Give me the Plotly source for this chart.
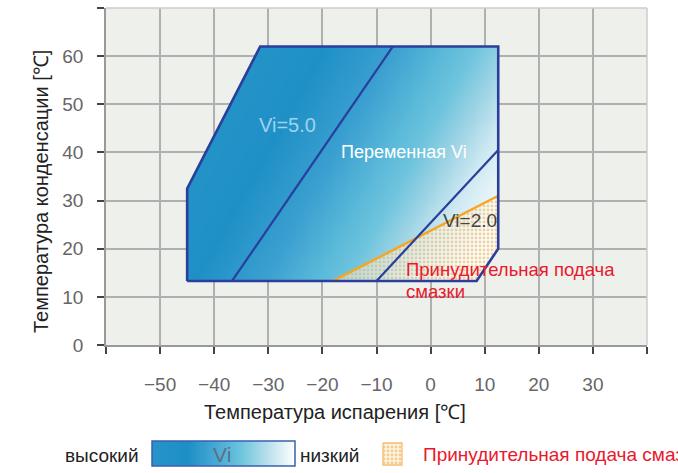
import numpy as np
import plotly.graph_objects as go

# ---------------- data ----------------
x_ticks = [-60, -50, -40, -30, -20, -10, 0, 10, 20, 30, 40]
x_ticktext = ["", "−50", "−40", "−30", "−20", "−10", "0", "10", "20", "30", ""]
y_ticks = [0, 10, 20, 30, 40, 50, 60, 70]
y_ticktext = ["0", "10", "20", "30", "40", "50", "60", ""]

envelope_x = [-45, -45, -31.5, 12.5, 12.5, 8.5, -45]
envelope_y = [13.3, 32.5, 62, 62, 20, 13.3, 13.3]

vi5_x = [-36.7, -7.0]
vi5_y = [13.3, 62.0]

vi2_x = [-10.0, 12.5]
vi2_y = [13.3, 40.5]

oil_x = [-18.0, 12.5]
oil_y = [13.3, 31.0]

oil_zone_x = [-18.0, 12.5, 12.5, 8.5, -18.0]
oil_zone_y = [13.3, 31.0, 20.0, 13.3, 13.3]

# ---------------- geometry helpers ----------------
W, H = 678, 473
ML, MR, MT, MB = 106, 31, 8, 0
PW = W - ML - MR          # 541
PH = H - MT - MB          # 465
PLOT_BOTTOM_PX = 345
Y_DOMAIN = [(H - PLOT_BOTTOM_PX) / PH, 1.0]
XR = [-60, 40]
YR = [0, 70]
sx = PW / (XR[1] - XR[0])
sy = (PLOT_BOTTOM_PX - MT) / (YR[1] - YR[0])


def px_paper_x(px):
    return (px - ML) / PW


def px_paper_y(py):
    return (H - MB - py) / PH


def inside(px, py, vx, vy):
    vx = np.asarray(vx, float)
    vy = np.asarray(vy, float)
    res = np.zeros(px.shape, bool)
    n = len(vx)
    j = n - 1
    for i in range(n):
        xi, yi, xj, yj = vx[i], vy[i], vx[j], vy[j]
        cond = ((yi > py) != (yj > py)) & (
            px < (xj - xi) * (py - yi) / (yj - yi + 1e-12) + xi)
        res ^= cond
        j = i
    return res


# ---------------- gradient fill of envelope ----------------
gx = np.arange(-45.0, 12.6, 0.2)
gy = np.arange(13.3, 62.1, 0.2)
GX, GY = np.meshgrid(gx, gy)
SX = ML + (GX - XR[0]) * sx
SY = PLOT_BOTTOM_PX - GY * sy
T = 0.874 * (SX - 232) + 0.487 * (SY - 280)
mask = inside(GX, GY, envelope_x, envelope_y)
Z = np.where(mask, T, np.nan)

tmin, tmax = -110, 200
stops = [(-110, "#2593c8"), (-30, "#1f90c6"), (27, "#3a9fd0"), (70, "#58b7d8"),
         (100, "#6ec4dd"), (130, "#9fd4e5"), (160, "#cfe9f2"), (200, "#f4fafc")]
cscale = [[(t - tmin) / (tmax - tmin), c] for t, c in stops]

fig = go.Figure()
fig.add_trace(go.Heatmap(x=gx, y=gy, z=Z, colorscale=cscale, zmin=tmin, zmax=tmax,
                         showscale=False, hoverinfo="skip", zsmooth=False))

# oil (forced lubrication) dotted zone
fig.add_trace(go.Scatter(x=oil_zone_x, y=oil_zone_y, mode="lines", fill="toself",
                         line=dict(width=0, color="rgba(0,0,0,0)"),
                         fillcolor="rgba(255,255,255,0.35)",
                         fillpattern=dict(shape=".", fgcolor="#F0A535",
                                          bgcolor="rgba(255,255,255,0.45)",
                                          size=4, solidity=0.4),
                         hoverinfo="skip", showlegend=False))

# lines
fig.add_trace(go.Scatter(x=oil_x, y=oil_y, mode="lines",
                         line=dict(color="#F5A623", width=2.5),
                         hoverinfo="skip", showlegend=False))
fig.add_trace(go.Scatter(x=vi5_x, y=vi5_y, mode="lines",
                         line=dict(color="#2a3f9d", width=2.2),
                         hoverinfo="skip", showlegend=False))
fig.add_trace(go.Scatter(x=vi2_x, y=vi2_y, mode="lines",
                         line=dict(color="#2a3f9d", width=2.2),
                         hoverinfo="skip", showlegend=False))
fig.add_trace(go.Scatter(x=envelope_x, y=envelope_y, mode="lines",
                         line=dict(color="#2a3f9d", width=2.6),
                         hoverinfo="skip", showlegend=False))

# ---------------- legend row (pixel axes) ----------------
leg_grad_x = np.linspace(152, 295, 144)
f = (leg_grad_x - 152) / 143
leg_z = [list(f[:-1] + 0.5 / 143)]
leg_scale = [[0, "#2893c8"], [0.25, "#1d8fc6"], [0.45, "#48a9d4"], [0.62, "#6cc4dc"],
             [0.8, "#b5deeb"], [1.0, "#ffffff"]]
fig.add_trace(go.Heatmap(x=leg_grad_x, y=[441, 466], z=leg_z, colorscale=leg_scale,
                         zmin=0, zmax=1, showscale=False, hoverinfo="skip",
                         xaxis="x2", yaxis="y2"))
fig.add_trace(go.Scatter(x=[383, 402, 402, 383, 383], y=[443, 443, 465, 465, 443],
                         mode="lines", fill="toself", xaxis="x2", yaxis="y2",
                         line=dict(color="#F4BE78", width=1.3),
                         fillcolor="rgba(255,255,255,0)",
                         fillpattern=dict(shape=".", fgcolor="#F0A535",
                                          bgcolor="#FDF3E4", size=4, solidity=0.4),
                         hoverinfo="skip", showlegend=False))

FONT = "Liberation Sans, Arial, sans-serif"

shapes = [
    # plot background only for the main chart
    dict(type="rect", xref="paper", yref="paper", x0=0, x1=1, y0=Y_DOMAIN[0], y1=1,
         fillcolor="#EEF0EC", line=dict(width=0), layer="below"),
    dict(type="rect", xref="x2", yref="y2", x0=152, x1=295, y0=441, y1=466,
         line=dict(color="#3a5fb0", width=1.5)),
    dict(type="line", xref="paper", yref="paper", x0=0, x1=1, y0=1, y1=1,
         line=dict(color="#cccccc", width=1.5)),
    dict(type="line", xref="paper", yref="paper", x0=1, x1=1, y0=Y_DOMAIN[0], y1=1,
         line=dict(color="#cccccc", width=1.5)),
]


def pann(px, py, text, size, color, xanchor="center", angle=0):
    return dict(x=px_paper_x(px), y=px_paper_y(py), xref="paper", yref="paper",
                text=text, showarrow=False, xanchor=xanchor, yanchor="middle",
                textangle=angle, font=dict(family=FONT, size=size, color=color))


annotations = [
    dict(x=-26.4, y=45.7, xref="x", yref="y", text="Vi=5.0", showarrow=False,
         xanchor="center", yanchor="middle",
         font=dict(family=FONT, size=20, color="#9fd3ee")),
    dict(x=-4.9, y=40.1, xref="x", yref="y", text="Переменная Vi", showarrow=False,
         xanchor="center", yanchor="middle",
         font=dict(family=FONT, size=18, color="#ffffff")),
    dict(x=7.3, y=25.8, xref="x", yref="y", text="Vi=2.0", showarrow=False,
         xanchor="center", yanchor="middle",
         font=dict(family=FONT, size=19, color="#444444")),
    dict(x=-4.9, y=15.6, xref="x", yref="y", text="Принудительная подача",
         showarrow=False, xanchor="left", yanchor="middle",
         font=dict(family=FONT, size=18.5, color="#E8192C")),
    dict(x=-4.9, y=11.2, xref="x", yref="y", text="смазки",
         showarrow=False, xanchor="left", yanchor="middle",
         font=dict(family=FONT, size=18.5, color="#E8192C")),
    # axis titles
    pann(335, 412, "Температура испарения [℃]", 20, "#222222"),
    pann(41, 192, "Температура конденсации [℃]", 20, "#222222", angle=-90),
    # legend texts
    pann(63, 455, "высокий", 19, "#222222", xanchor="left"),
    pann(222, 454, "Vi", 21, "#5b6f8a"),
    pann(298, 455, "низкий", 19, "#222222", xanchor="left"),
    pann(421, 454, "Принудительная подача смазки", 19, "#E8192C", xanchor="left"),
]

fig.update_layout(
    width=W, height=H,
    margin=dict(l=ML, r=MR, t=MT, b=MB),
    paper_bgcolor="white",
    plot_bgcolor="rgba(0,0,0,0)",
    showlegend=False,
    shapes=shapes,
    annotations=annotations,
    xaxis=dict(range=XR, tickvals=x_ticks, ticktext=x_ticktext,
               showgrid=True, gridcolor="#b0b0b0", gridwidth=1.5,
               zeroline=False, showline=True, linecolor="#999999", linewidth=1.5,
               ticks="outside", ticklen=7, tickcolor="#444444", tickwidth=1.5,
               ticklabelstandoff=14,
               tickfont=dict(family=FONT, size=19, color="#666666"),
               anchor="y", fixedrange=True, automargin=False),
    yaxis=dict(range=YR, tickvals=y_ticks, ticktext=y_ticktext, domain=Y_DOMAIN,
               showgrid=True, gridcolor="#b0b0b0", gridwidth=1.5,
               zeroline=False, showline=True, linecolor="#999999", linewidth=1.5,
               ticks="outside", ticklen=7, tickcolor="#444444", tickwidth=1.5,
               ticklabelstandoff=10,
               tickfont=dict(family=FONT, size=19, color="#666666"),
               anchor="x", fixedrange=True, automargin=False),
    xaxis2=dict(domain=[0, 1], range=[ML, W - MR], visible=False, anchor="y2",
                fixedrange=True),
    yaxis2=dict(domain=[0, 40 / PH], range=[H, H - 40], visible=False, anchor="x2",
                fixedrange=True),
)

fig.write_html("out.html", config={"responsive": False, "displayModeBar": False},
               post_script="document.body.style.margin='0px';"
                           "document.body.style.overflow='hidden';")
